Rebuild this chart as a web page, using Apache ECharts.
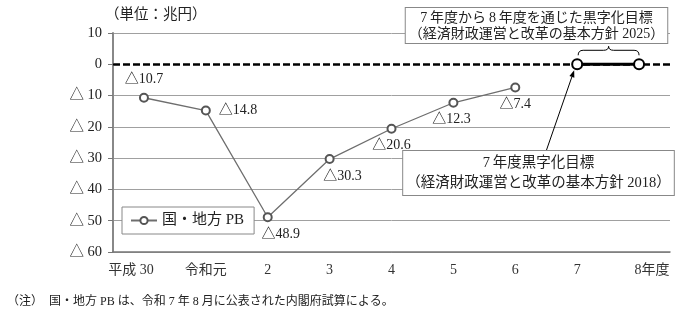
<!DOCTYPE html>
<html><head><meta charset="utf-8">
<script src="https://cdn.jsdelivr.net/npm/echarts@6/dist/echarts.min.js"></script>
<style>html,body{margin:0;padding:0;background:#fff}#c{width:681px;height:318px}</style>
</head><body><div id="c"></div>
<script>
const categories = ['平成 30','令和元','2','3','4','5','6','7','8年度'];
const pbValues = [-10.7,-14.8,-48.9,-30.3,-20.6,-12.3,-7.4,null,null];
const targetValues = [null,null,null,null,null,null,null,0,0];
const yMin = -60, yMax = 10, yStep = 10;
const unitText = '（単位：兆円）';
const box2025 = '7\u2009年度から\u20098\u2009年度を通じた黒字化目標\n（経済財政運営と改革の基本方針 2025）';
const box2018 = '7\u2009年度黒字化目標\n（経済財政運営と改革の基本方針 2018）';
const noteText = '（注）　国・地方 PB は、令和 7 年 8 月に公表された内閣府試算による。';

const FONT = "'Liberation Serif','Noto Sans CJK JP',serif";
const tri = v => '△' + (-v);

const labelCfg = [
  {position:'top', distance:6},
  {position:'right', distance:8},
  {position:'bottom', distance:5, offset:[13,0]},
  {position:'bottom', distance:5, offset:[13,0]},
  {position:'bottom', distance:5},
  {position:'bottom', distance:5, offset:[-2,0]},
  {position:'bottom', distance:5}
];
const pbData = pbValues.map((v,i)=> v===null ? null : ({value:v, label: labelCfg[i]}));

const chart = echarts.init(document.getElementById('c'), null, {renderer:'canvas'});
chart.setOption({
  animation:false,
  textStyle:{fontFamily:FONT},
  grid:{left:113, right:11, top:33, bottom:66, containLabel:false},
  title:[
    {text:unitText, left:105, top:8, padding:0, textStyle:{fontFamily:FONT, fontSize:14.5, fontWeight:'normal', color:'#222'}},
    {text:noteText, left:7, top:296, padding:0, textStyle:{fontFamily:FONT, fontSize:12, fontWeight:'normal', color:'#222'}}
  ],
  legend:{
    data:['国・地方 PB'], left:122, top:207, orient:'horizontal',
    padding:[6,10,6,8], itemWidth:26, itemHeight:9, itemGap:6,
    borderColor:'#888', borderWidth:1, backgroundColor:'#fff',
    textStyle:{fontFamily:FONT, fontSize:15, color:'#222'}
  },
  xAxis:{
    type:'category', data:categories, boundaryGap:true,
    axisLine:{onZero:false, lineStyle:{color:'#777', width:1.5}},
    axisTick:{show:false},
    axisLabel:{
      margin:11, color:'#333', fontFamily:FONT, fontSize:14, interval:0,
      formatter:(v,i)=> i===0 ? '{l|'+v+'}' : (i===categories.length-1 ? '{r|'+v+'}' : v),
      rich:{
        l:{padding:[0,26,0,0], fontSize:14, fontFamily:FONT, color:'#333'},
        r:{padding:[0,0,0,26], fontSize:14, fontFamily:FONT, color:'#333'}
      }
    }
  },
  yAxis:{
    type:'value', min:yMin, max:yMax, interval:yStep,
    axisLine:{show:true, lineStyle:{color:'#888', width:2}},
    axisTick:{show:true, length:5, lineStyle:{color:'#777'}},
    splitLine:{show:true, lineStyle:{color:'#a0a0a0', width:1}},
    axisLabel:{margin:11, color:'#222', fontFamily:FONT, fontSize:14.5,
      formatter:v=> v<0 ? '△ '+(-v) : String(v)}
  },
  series:[
    {
      name:'国・地方 PB', type:'line', data:pbData, z:3,
      symbol:'emptyCircle', symbolSize:8, showAllSymbol:true,
      lineStyle:{color:'#6e6e6e', width:1.3},
      itemStyle:{color:'#555', borderColor:'#555', borderWidth:1.2},
      label:{show:true, fontFamily:FONT, fontSize:14, color:'#222', formatter:p=>tri(p.value)},
      markLine:{
        silent:true, z:2, symbol:['none','none'], label:{show:false},
        data:[
          {yAxis:0, lineStyle:{color:'#fff', width:3, type:'solid'}},
          {yAxis:0, lineStyle:{color:'#000', width:2.5, type:[7,3]}}
        ]
      }
    },
    {
      name:'目標', type:'line', data:targetValues, z:6,
      symbol:'circle', symbolSize:10, showAllSymbol:true,
      lineStyle:{color:'#000', width:3},
      itemStyle:{color:'#fff', borderColor:'#000', borderWidth:2},
      label:{show:false}
    }
  ]
});

const p7 = chart.convertToPixel({gridIndex:0}, [7, 0]);
const p8 = chart.convertToPixel({gridIndex:0}, [8, 0]);
const x1 = p7[0]+1, x2 = p8[0];
const mid = (x1+x2)/2;
const by = p7[1]-9, ty = p7[1]-14, tip = p7[1]-18;
const q = (ax,ay,cx,cy,bx2,by2)=>({type:'bezierCurve', z:10, shape:{x1:ax,y1:ay,cpx1:cx,cpy1:cy,x2:bx2,y2:by2}, style:{stroke:'#000', fill:null, lineWidth:1}});
const ln = (ax,ay,bx2,by2)=>({type:'line', z:10, shape:{x1:ax,y1:ay,x2:bx2,y2:by2}, style:{stroke:'#000', lineWidth:1}});
const braceEls = [
  q(x1,by, x1,ty, x1+5,ty),
  ln(x1+5,ty, mid-5,ty),
  q(mid-5,ty, mid,ty, mid,tip),
  q(mid,tip, mid,ty, mid+5,ty),
  ln(mid+5,ty, x2-5,ty),
  q(x2-5,ty, x2,ty, x2,by)
];

// arrow from box top to 7 marker
const sx = p7[0]-31, sy = 151;
const ex = p7[0]-3, ey = p7[1]+6;
const dx = ex-sx, dy = ey-sy, L = Math.hypot(dx,dy);
const ux = dx/L, uy = dy/L, nx = -uy, ny = ux;
const hl = 7, hw = 2.6;
const bx = ex-ux*hl, byy = ey-uy*hl;

chart.setOption({
  graphic: braceEls.concat([
    {type:'line', shape:{x1:sx, y1:sy, x2:bx, y2:byy}, style:{stroke:'#000', lineWidth:1}, z:10},
    {type:'polygon', shape:{points:[[ex,ey],[bx+nx*hw,byy+ny*hw],[bx-nx*hw,byy-ny*hw]]}, style:{fill:'#000'}, z:10},
    {type:'text', x:536.5, y:8, z:20, style:{
      text:box2025, font:"14px "+FONT, fill:'#222', align:'center', verticalAlign:'top',
      lineHeight:16, backgroundColor:'#fff', borderColor:'#888', borderWidth:1, padding:[2,3,1,3]}},
    {type:'text', x:538.5, y:151, z:20, style:{
      text:box2018, font:"14.5px "+FONT, fill:'#222', align:'center', verticalAlign:'top',
      lineHeight:20, backgroundColor:'#fff', borderColor:'#888', borderWidth:1, padding:[2,3,2,3]}}
  ])
});
</script></body></html>
